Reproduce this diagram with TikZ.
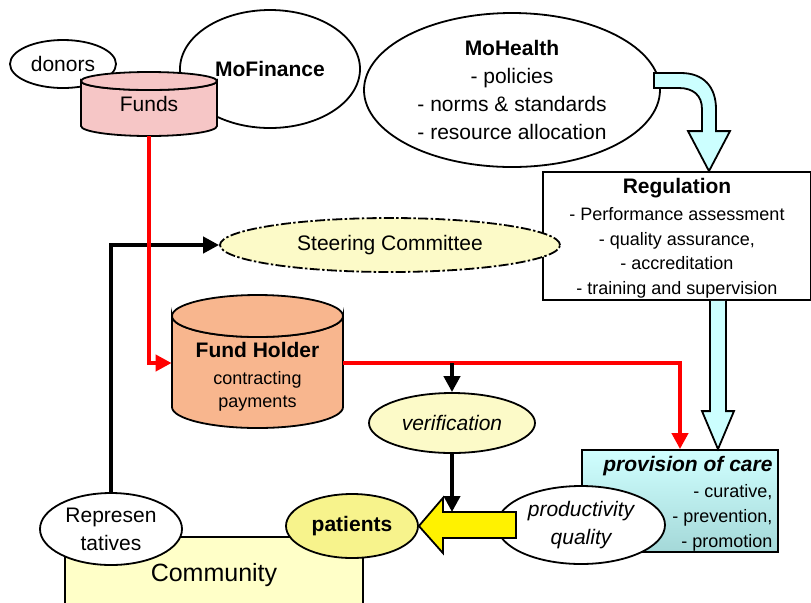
\documentclass[tikz,border=0pt]{standalone}
\usepackage{fontspec}
\setmainfont{Liberation Sans}
\usepackage{tikz}
\usetikzlibrary{positioning}
\usetikzlibrary{calc}
\usetikzlibrary{shapes.geometric}
\usetikzlibrary{arrows.meta}

\definecolor{paleyellow}{RGB}{252,250,200}
\definecolor{pinkfund}{RGB}{246,198,198}
\definecolor{orangefund}{RGB}{248,182,142}
\definecolor{lightcyan}{RGB}{204,255,255}
\definecolor{caretop}{RGB}{208,255,255}
\definecolor{carebot}{RGB}{164,216,216}
\definecolor{patientyellow}{RGB}{247,243,140}
\definecolor{commyellow}{RGB}{255,255,200}

\begin{document}
\begin{tikzpicture}[x=0.5pt, y=-0.5pt,
  txt/.style={font=\fontsize{10.5}{14}\selectfont},
  smalltext/.style={font=\fontsize{9}{12.4}\selectfont},
  oval/.style={ellipse, draw, line width=0.9pt, fill=white, inner sep=0pt, txt},
  plainbox/.style={rectangle, draw, line width=0.9pt, inner sep=3pt},
  flow/.style={line width=2pt, -{Triangle[length=8pt,width=8pt]}},
  money/.style={flow, red},
  bigarrow/.style={draw, line width=0.9pt, fill=lightcyan, line join=miter},
]
\useasboundingbox (0,0) rectangle (811,602);

% community side
\node[plainbox, fill=commyellow, minimum width=149pt, minimum height=38pt, font=\fontsize{12.5}{15}\selectfont] (comm) at (214,575) {Community};
\node[oval, minimum width=71pt, minimum height=36pt, align=center] (rep) at (111,529) {Represen\\tatives};
\node[oval, fill=patientyellow, minimum width=66pt, minimum height=32pt, font=\fontsize{10.5}{14}\selectfont\bfseries] (patients) at (352,526) {patients};

% money sources
\node[oval, minimum width=53pt, minimum height=24pt] (donors) at (63,64) {donors};
\node[oval, minimum width=90pt, minimum height=59pt, font=\fontsize{10.5}{14}\selectfont\bfseries] (mofin) at (270,69) {MoFinance};
\filldraw[fill=pinkfund, line width=0.9pt] (81,81) -- (81,126) arc[start angle=180, end angle=0, x radius=68, y radius=10] -- (217,81) arc[start angle=0, end angle=180, x radius=68, y radius=9] -- cycle;
\filldraw[fill=pinkfund, line width=0.9pt] (149,81) ellipse[x radius=68, y radius=9];
\node[txt, minimum width=68pt, minimum height=32pt] (funds) at (149,104) {Funds};

% ministry of health and regulation
\node[oval, minimum width=148pt, minimum height=77pt, align=center] (moh) at (512,90) {\textbf{MoHealth}\\- policies\\- norms \& standards\\- resource allocation};
\node[plainbox, fill=white, minimum width=134pt, minimum height=64pt] (reg) at (677,236) {};
\node[align=center, font=\fontsize{9}{12.2}\selectfont] (regtext) at (677,238) {{\fontsize{10.5}{14}\selectfont\bfseries Regulation}\\[1.5pt]- Performance assessment\\- quality assurance,\\- accreditation\\- training and supervision};
\coordinate (hA) at ($(moh.east)+(-7,-10)$);
\coordinate (hB) at ($(reg.north)+(32,0)$);
\draw[bigarrow] ($(hA)+(0,-7)$) -- ($(hA)+(27,-7)$) .. controls ($(hA)+(50,-7)$) and ($(hB)+(7,-84)$) .. ($(hB)+(7,-62)$) -- ($(hB)+(7,-40)$) -- ($(hB)+(21,-40)$) -- (hB) -- ($(hB)+(-21,-40)$) -- ($(hB)+(-7,-40)$) -- ($(hB)+(-7,-62)$) .. controls ($(hB)+(-7,-76)$) and ($(hA)+(39,8)$) .. ($(hA)+(25,8)$) -- ($(hA)+(0,8)$) -- cycle;

\node[oval, fill=paleyellow, dash pattern=on 5pt off 1.2pt on 1.2pt off 1.2pt, minimum width=170pt, minimum height=27pt] (steer) at (390,245) {Steering Committee};
\draw[flow] (rep.north) |- (steer.west);

% fund holder
\filldraw[fill=orangefund, line width=0.9pt] (172,316) -- (172,407) arc[start angle=180, end angle=0, x radius=85.5, y radius=21] -- (343,316) arc[start angle=0, end angle=180, x radius=85.5, y radius=21] -- cycle;
\filldraw[fill=orangefund, line width=0.9pt] (257.5,316) ellipse[x radius=85.5, y radius=21];
\node[align=center, minimum width=85.5pt, font=\fontsize{9}{11.5}\selectfont] (fh) at (257.5,377) {{\fontsize{10.5}{14}\selectfont\bfseries Fund Holder}\\[2pt]contracting\\payments};
\coordinate (fhin) at ([yshift=7pt]fh.west);
\coordinate (fhout) at ([yshift=7pt]fh.east);

\node[oval, fill=paleyellow, minimum width=83pt, minimum height=30pt, font=\fontsize{10.5}{14}\selectfont\itshape] (verif) at (452,423) {verification};

% provision of care
\node[plainbox, top color=caretop, bottom color=carebot, minimum width=98pt, minimum height=51pt] (care) at (680,501) {};
\node[anchor=north east, align=right, smalltext, inner sep=0pt] (caretext) at ($(care.north east)+(-6,7)$) {{\fontsize{10.5}{14}\selectfont\bfseries\itshape provision of care}\\[0.5pt]- curative,\\- prevention,\\- promotion};
\coordinate (cA) at ($(reg.south)+(41,0)$);
\coordinate (cB) at (cA |- care.north);
\filldraw[bigarrow] ($(cA)+(-8,0)$) -- ($(cB)+(-8,-38)$) -- ($(cB)+(-16,-38)$) -- (cB) -- ($(cB)+(16,-38)$) -- ($(cB)+(8,-38)$) -- ($(cA)+(8,0)$);

\draw[money] (funds.south) |- (fhin);
\draw[money] (fhout) -| (care.north);
\draw[flow] (verif.north |- fhout) -- (verif.north);

\node[oval, minimum width=84pt, minimum height=39pt, align=center, font=\fontsize{10.5}{14}\selectfont\itshape] (pq) at (581,525) {productivity\\quality};
\coordinate (ytip) at (patients.east);
\coordinate (ytop) at ($(ytip)+(38,-14)$);
\draw[line width=0.9pt, fill=yellow] (ytip) -- ($(ytip)+(24,-28)$) -- ($(ytip)+(24,-14)$) -- ($(ytip)+(97,-14)$) -- ($(ytip)+(97,12)$) -- ($(ytip)+(24,12)$) -- ($(ytip)+(24,27)$) -- cycle;
\draw[flow] (verif.south) -- (verif.south |- ytop);
\end{tikzpicture}
\end{document}
